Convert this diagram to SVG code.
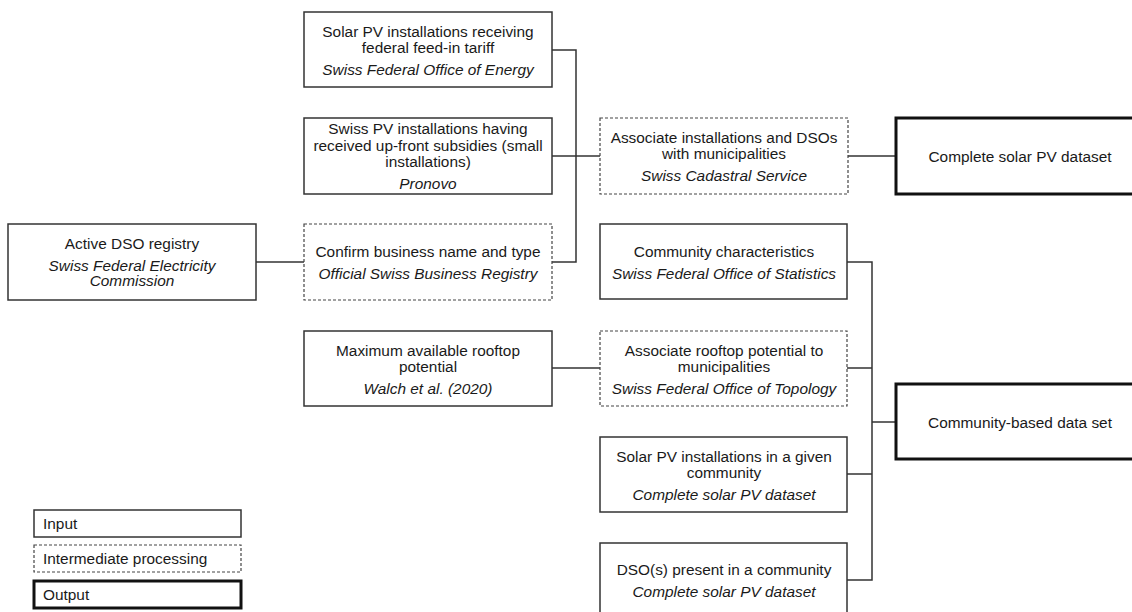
<svg xmlns="http://www.w3.org/2000/svg" width="1132" height="612" viewBox="0 0 1132 612">
<style>
text{font-family:"Liberation Sans",Arial,sans-serif;font-size:15.4px;fill:#1a1a1a;text-anchor:middle}
.it{font-style:italic}
.lg{text-anchor:start}
.in{fill:#fff;stroke:#333;stroke-width:1.5}
.mid{fill:#fff;stroke:#444;stroke-width:1.2;stroke-dasharray:3 2}
.out{fill:#fff;stroke:#111;stroke-width:3}
.con{fill:none;stroke:#333;stroke-width:1.5}
</style>
<rect width="1132" height="612" fill="#fff"/>
<g id="connectors">
<path class="con" d="M552 50H576V262H552"/>
<path class="con" d="M552 156H600"/>
<path class="con" d="M256 262H304"/>
<path class="con" d="M848 156H896"/>
<path class="con" d="M552 368H600"/>
<path class="con" d="M847 262H872V580H847"/>
<path class="con" d="M847 368H872M847 474H872M872 422H896"/>
</g>
<g id="n-feedin">
<rect class="in" x="304" y="12" width="248" height="75"/>
<text x="428" y="36.5">Solar PV installations receiving</text>
<text x="428" y="52.5">federal feed-in tariff</text>
<text x="428" y="74.5" class="it">Swiss Federal Office of Energy</text>
</g>
<g id="n-pronovo">
<rect class="in" x="304" y="118" width="248" height="76"/>
<text x="428" y="134">Swiss PV installations having</text>
<text x="428" y="150.5">received up-front subsidies (small</text>
<text x="428" y="166.5">installations)</text>
<text x="428" y="188.5" class="it">Pronovo</text>
</g>
<g id="n-dso">
<rect class="in" x="8" y="224" width="248" height="76"/>
<text x="132" y="248.5">Active DSO registry</text>
<text x="132" y="270.5" class="it">Swiss Federal Electricity</text>
<text x="132" y="285.5" class="it">Commission</text>
</g>
<g id="n-confirm">
<rect class="mid" x="304" y="224" width="248" height="76"/>
<text x="428" y="256.5">Confirm business name and type</text>
<text x="428" y="278.5" class="it">Official Swiss Business Registry</text>
</g>
<g id="n-maxroof">
<rect class="in" x="304" y="331" width="248" height="75"/>
<text x="428" y="355.5">Maximum available rooftop</text>
<text x="428" y="371.5">potential</text>
<text x="428" y="393.5" class="it">Walch et al. (2020)</text>
</g>
<g id="n-associnst">
<rect class="mid" x="600" y="118" width="248" height="76"/>
<text x="724" y="142.5">Associate installations and DSOs</text>
<text x="724" y="158.5">with municipalities</text>
<text x="724" y="180.5" class="it">Swiss Cadastral Service</text>
</g>
<g id="n-complete">
<rect class="out" x="896" y="118" width="250" height="76"/>
<text x="1020" y="161.5">Complete solar PV dataset</text>
</g>
<g id="n-commchar">
<rect class="in" x="600" y="224" width="247" height="75"/>
<text x="724" y="256.5">Community characteristics</text>
<text x="724" y="278.5" class="it">Swiss Federal Office of Statistics</text>
</g>
<g id="n-assocroof">
<rect class="mid" x="600" y="331" width="247" height="75"/>
<text x="724" y="355.5">Associate rooftop potential to</text>
<text x="724" y="371.5">municipalities</text>
<text x="724" y="393.5" class="it">Swiss Federal Office of Topology</text>
</g>
<g id="n-pvcomm">
<rect class="in" x="600" y="437" width="247" height="75"/>
<text x="724" y="461.5">Solar PV installations in a given</text>
<text x="724" y="477.5">community</text>
<text x="724" y="499.5" class="it">Complete solar PV dataset</text>
</g>
<g id="n-dsocomm">
<rect class="in" x="600" y="543" width="247" height="76"/>
<text x="724" y="575">DSO(s) present in a community</text>
<text x="724" y="597" class="it">Complete solar PV dataset</text>
</g>
<g id="n-community">
<rect class="out" x="896" y="384" width="250" height="75"/>
<text x="1020" y="427.5">Community-based data set</text>
</g>
<g id="legend">
<rect class="in" x="34" y="510" width="207" height="27"/>
<text x="43" y="529" class="lg">Input</text>
<rect class="mid" x="34" y="545" width="207" height="27"/>
<text x="43" y="564" class="lg">Intermediate processing</text>
<rect class="out" x="34" y="581" width="207" height="27"/>
<text x="43" y="600" class="lg">Output</text>
</g>
</svg>
